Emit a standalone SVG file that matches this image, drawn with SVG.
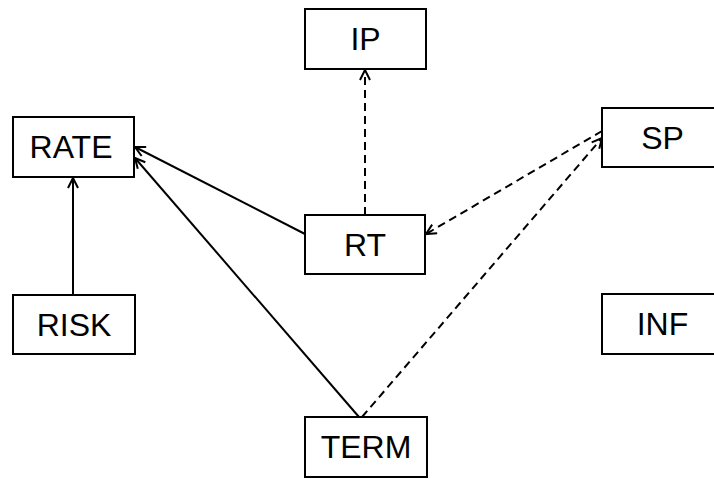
<svg xmlns="http://www.w3.org/2000/svg" width="714" height="479" viewBox="0 0 714 479">
<style>
.box{fill:#fff;stroke:#000;stroke-width:2}
.lbl{font-family:"Liberation Sans",Arial,sans-serif;font-size:32px;fill:#000;text-anchor:middle}
.e{fill:none;stroke:#000;stroke-width:2}
.d{stroke-dasharray:8,5}
</style>
<defs>
<marker id="arr" viewBox="0 0 12 12" refX="11" refY="6" markerWidth="12" markerHeight="12" markerUnits="userSpaceOnUse" orient="auto">
<polyline points="1,1 11,6 1,11" fill="none" stroke="#000" stroke-width="2"/>
</marker>
</defs>
<rect width="714" height="479" fill="#fff"/>
<g id="connectors">
<path class="e" d="M73,295 L73,178" marker-end="url(#arr)"/>
<path class="e" d="M305,234 L135,147" marker-end="url(#arr)"/>
<path class="e" d="M359,417 L135,158" marker-end="url(#arr)"/>
<path class="e d" d="M365,215 L365,70" marker-end="url(#arr)"/>
<path class="e d" d="M602,131 L426,234" marker-end="url(#arr)"/>
<path class="e d" d="M362,417 L602,138" marker-end="url(#arr)"/>
</g>
<g id="RATE"><rect class="box" x="13" y="117" width="121" height="60"/><text class="lbl" x="71" y="158">RATE</text></g>
<g id="IP"><rect class="box" x="305" y="9" width="121" height="60"/><text class="lbl" x="365.5" y="50">IP</text></g>
<g id="RT"><rect class="box" x="305" y="215" width="120" height="59"/><text class="lbl" x="365" y="256">RT</text></g>
<g id="SP"><rect class="box" x="602" y="108" width="121" height="59"/><text class="lbl" x="662.5" y="149">SP</text></g>
<g id="RISK"><rect class="box" x="13" y="295" width="122" height="59"/><text class="lbl" x="74" y="336">RISK</text></g>
<g id="INF"><rect class="box" x="602" y="294" width="121" height="60"/><text class="lbl" x="662.5" y="335">INF</text></g>
<g id="TERM"><rect class="box" x="305" y="417" width="122" height="60"/><text class="lbl" x="366" y="458">TERM</text></g>
</svg>
